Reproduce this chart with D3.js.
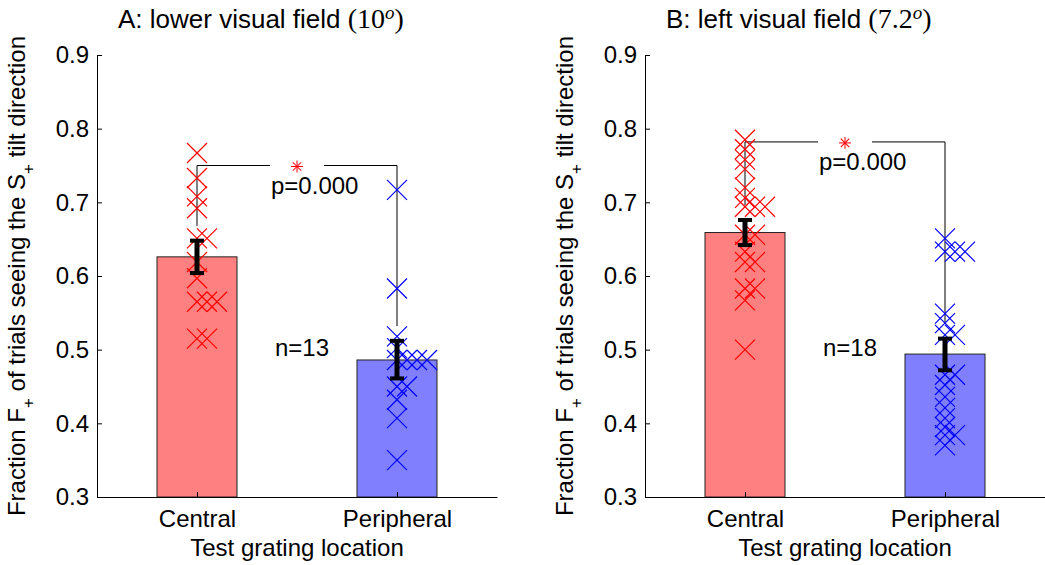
<!DOCTYPE html>
<html>
<head>
<meta charset="utf-8">
<script src="https://cdn.jsdelivr.net/npm/d3@7"></script>
<style>
  body { margin: 0; background: #fff; }
  text { font-family: "Liberation Sans", Arial, sans-serif; }
</style>
</head>
<body>
<div id="chart"></div>
<script>
// data
const categories = ["Central", "Peripheral"]
const yTicks = [0.3, 0.4, 0.5, 0.6, 0.7, 0.8, 0.9]

const titleA = "A: lower visual field "
const angleA = "10"
const barsA = [0.626, 0.486]
const errLowA = [0.604, 0.461]
const errHighA = [0.648, 0.512]
const centralA = [0.767, 0.733, 0.708, 0.692, 0.651, 0.651, 0.619, 0.597, 0.565, 0.565, 0.565, 0.515, 0.515]
const peripheralA = [0.717, 0.583, 0.518, 0.502, 0.486, 0.486, 0.486, 0.486, 0.450, 0.450, 0.432, 0.407, 0.350]
const bracketA = 0.75
const nLabelA = "n=13"
const pLabelA = "p=0.000"

const titleB = "B: left visual field "
const angleB = "7.2"
const barsB = [0.659, 0.494]
const errLowB = [0.642, 0.472]
const errHighB = [0.676, 0.515]
const centralB = [0.785, 0.772, 0.758, 0.745, 0.720, 0.706, 0.694, 0.694, 0.694, 0.656, 0.656, 0.633, 0.619, 0.619, 0.583, 0.583, 0.567, 0.500]
const peripheralB = [0.651, 0.633, 0.633, 0.633, 0.549, 0.536, 0.520, 0.520, 0.466, 0.466, 0.452, 0.436, 0.421, 0.407, 0.395, 0.384, 0.384, 0.370]
const bracketB = 0.782
const nLabelB = "n=18"
const pLabelB = "p=0.000"

const barColors = ["#ff8080", "#8080ff"]
const markColors = ["#ff0000", "#0000ff"]

// plot size
const plotW = 400, plotH = 442, plotTop = 55

const svg = d3.select("#chart")
  .append("svg")
    .attr("width", 1045)
    .attr("height", 565)

const drawPanel = (p) => {
    const g = svg.append("g")
        .attr("transform", `translate(${p.left}, ${plotTop})`)

    const x = d3.scaleLinear().domain([0.5, 2.5]).range([0, plotW])
    const y = d3.scaleLinear().domain([0.3, 0.9]).range([plotH, 0])
    const barW = x(1.2) - x(0.8)

    // bars
    g.selectAll(".bar")
      .data(p.bars)
      .join("rect")
        .attr("x", (d, i) => x(i + 1) - barW / 2)
        .attr("y", d => y(d))
        .attr("width", barW)
        .attr("height", d => y(0.3) - y(d))
        .attr("fill", (d, i) => barColors[i])
        .attr("stroke", "#222")
        .attr("stroke-width", 1)

    // significance bracket
    const mid = (x(1) + x(2)) / 2
    const yb = y(p.bracket)
    const br = g.append("g").attr("stroke", "black").attr("fill", "none").attr("stroke-width", 1)
    br.append("path")
        .attr("d", `M${x(1)},${y(p.errHigh[0] + 0.02)}V${yb}H${mid - 27}`)
    br.append("path")
        .attr("d", `M${mid + 27},${yb}H${x(2)}V${y(p.errHigh[1] + 0.02)}`)

    // asterisk
    const ast = g.append("g").attr("stroke", "red").attr("stroke-width", 1)
        .attr("transform", `translate(${mid}, ${yb + 1})`)
    ;[0, 45, 90, 135].forEach(a => {
        ast.append("line")
            .attr("x1", -6).attr("x2", 6)
            .attr("transform", `rotate(${a})`)
    })

    g.append("text")
        .attr("x", mid - 26)
        .attr("y", yb + 22)
        .attr("dominant-baseline", "middle")
        .style("font-size", "24px")
        .text(p.pLabel)

    g.append("text")
        .attr("x", mid - 22)
        .attr("y", y(0.5))
        .attr("dominant-baseline", "middle")
        .style("font-size", "24px")
        .text(p.nLabel)

    // individual subjects, repeated values shifted to the right
    const sets = [p.central, p.peripheral]
    sets.forEach((vals, i) => {
        const seen = {}
        const pts = vals.map(v => {
            const k = seen[v] || 0
            seen[v] = k + 1
            return {cx: x(i + 1 + k * 0.05), cy: y(v)}
        })
        g.append("g")
          .selectAll("path")
          .data(pts)
          .join("path")
            .attr("d", d => `M${d.cx - 10},${d.cy - 10}L${d.cx + 10},${d.cy + 10}M${d.cx - 10},${d.cy + 10}L${d.cx + 10},${d.cy - 10}`)
            .attr("stroke", markColors[i])
            .attr("stroke-width", 1.2)
            .attr("fill", "none")
    })

    // error bars
    const eb = g.append("g").attr("stroke", "black")
    p.bars.forEach((d, i) => {
        const cx = x(i + 1)
        eb.append("line").attr("x1", cx).attr("x2", cx)
            .attr("y1", y(p.errLow[i])).attr("y2", y(p.errHigh[i]))
            .attr("stroke-width", 5)
        ;[p.errLow[i], p.errHigh[i]].forEach(v => {
            eb.append("line").attr("x1", cx - 7).attr("x2", cx + 7)
                .attr("y1", y(v)).attr("y2", y(v))
                .attr("stroke-width", 4)
        })
    })

    // axes
    const ya = g.append("g")
        .call(d3.axisLeft(y).tickValues(yTicks).tickFormat(d3.format(".1f"))
            .tickSize(-5).tickSizeOuter(0).tickPadding(8))
    const xa = g.append("g")
        .attr("transform", `translate(0, ${plotH})`)
        .call(d3.axisBottom(x).tickValues([1, 2]).tickFormat(d => categories[d - 1])
            .tickSize(-5).tickSizeOuter(0).tickPadding(13))
    ;[ya, xa].forEach(a => {
        a.selectAll("text").style("font-size", "24px").attr("fill", "black")
            .style("font-family", "'Liberation Sans', Arial, sans-serif")
        a.selectAll("line, path").attr("stroke", "black")
    })

    // titles and labels
    const t = g.append("text")
        .attr("x", 21)
        .attr("y", 28 - plotTop)
        .style("font-size", "26px")
    t.append("tspan").text(p.title)
    t.append("tspan").style("font-family", "'Liberation Serif', serif").style("font-size", "28px").text("(" + p.angle)
    t.append("tspan").style("font-family", "'Liberation Serif', serif").style("font-style", "italic")
        .style("font-size", "19px").attr("dy", -9).text("o")
    t.append("tspan").style("font-family", "'Liberation Serif', serif").style("font-size", "28px")
        .attr("dy", 9).text(")")

    g.append("text")
        .attr("x", plotW / 2)
        .attr("y", 556 - plotTop)
        .attr("text-anchor", "middle")
        .style("font-size", "24px")
        .text("Test grating location")

    const yl = g.append("text")
        .attr("transform", `translate(${25 - 97}, ${plotH / 2}) rotate(-90)`)
        .attr("text-anchor", "middle")
        .style("font-size", "24px")
    yl.append("tspan").text("Fraction F")
    yl.append("tspan").attr("dy", 9).style("font-size", "17px").text("+")
    yl.append("tspan").attr("dy", -9).text(" of trials seeing the S")
    yl.append("tspan").attr("dy", 9).style("font-size", "17px").text("+")
    yl.append("tspan").attr("dy", -9).text(" tilt direction")
}

drawPanel({left: 97, title: titleA, angle: angleA, bars: barsA, errLow: errLowA, errHigh: errHighA,
    central: centralA, peripheral: peripheralA, bracket: bracketA, nLabel: nLabelA, pLabel: pLabelA})
drawPanel({left: 645, title: titleB, angle: angleB, bars: barsB, errLow: errLowB, errHigh: errHighB,
    central: centralB, peripheral: peripheralB, bracket: bracketB, nLabel: nLabelB, pLabel: pLabelB})
</script>
</body>
</html>
